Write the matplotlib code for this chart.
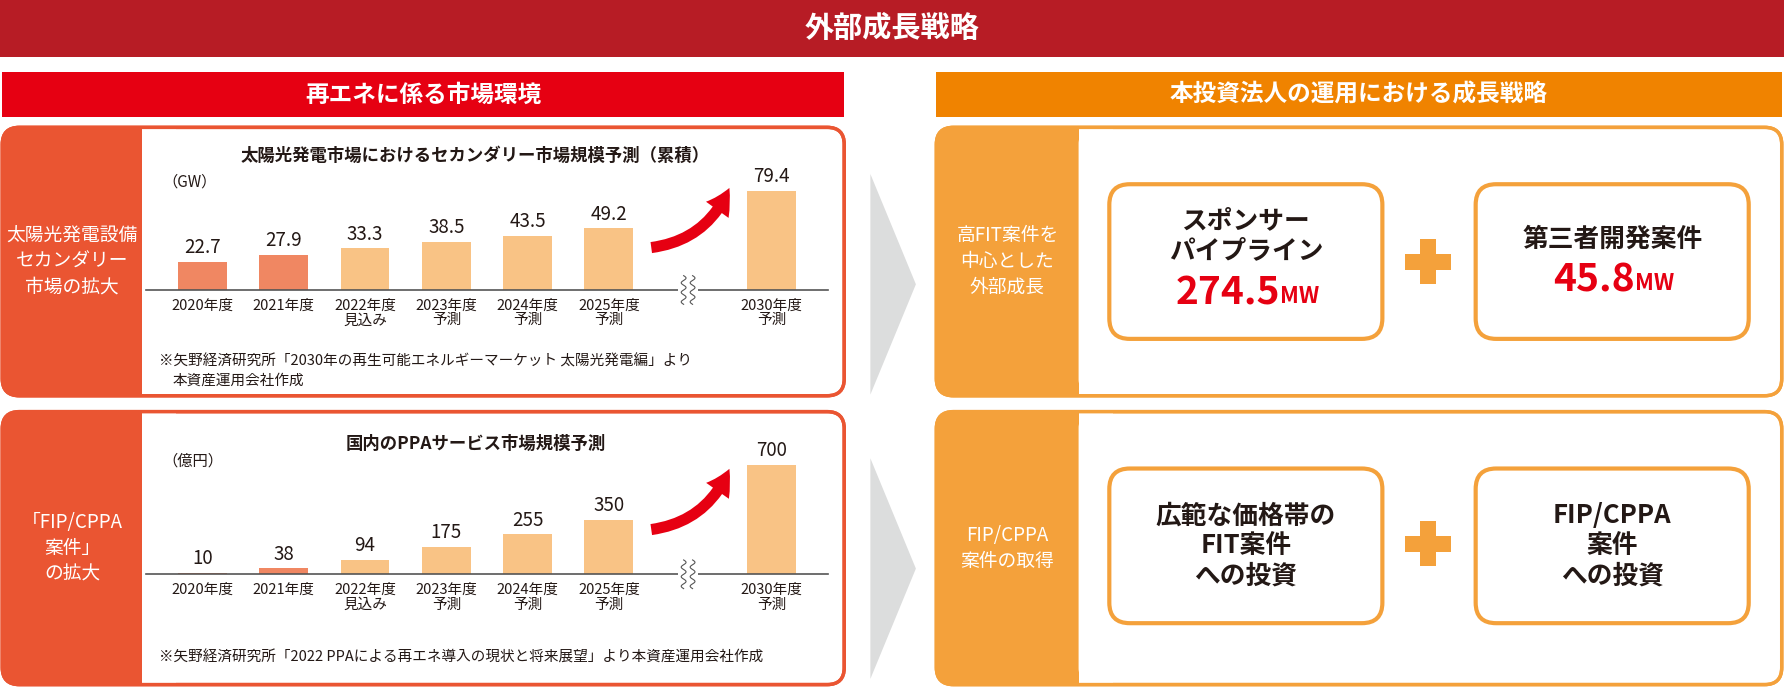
import matplotlib.pyplot as plt
import numpy as np
from matplotlib.patches import FancyBboxPatch, Rectangle, Polygon, FancyArrowPatch

plt.rcParams['font.family'] = ['Noto Sans CJK JP', 'DejaVu Sans']

# data
years = ["2020年度", "2021年度", "2022年度\n見込み", "2023年度\n予測", "2024年度\n予測",
         "2025年度\n予測", "2030年度\n予測"]
positions = [0, 1, 2, 3, 4, 5, 7]
solar_gw = [22.7, 27.9, 33.3, 38.5, 43.5, 49.2, 79.4]
ppa_oku = [10, 38, 94, 175, 255, 350, 700]
solar_labels = ["22.7", "27.9", "33.3", "38.5", "43.5", "49.2", "79.4"]
ppa_labels = ["10", "38", "94", "175", "255", "350", "700"]

W, H = 1568, 605
RED = "#e60012"
DARKRED = "#b71c25"
ORANGE = "#f08300"
LEFTC = "#ea5532"
RIGHTC = "#f4a13b"
SALMON = "#f08762"
LIGHT = "#f9c385"
INK = "#231815"

fig = plt.figure(figsize=(17.84, 6.88), dpi=100)
ax = fig.add_axes([0, 0, 1, 1])
ax.set_xlim(0, W)
ax.set_ylim(H, 0)
ax.axis("off")


def rbox(x0, y0, x1, y1, fc, ec, lw=2.5, r=15, z=1):
    p = FancyBboxPatch((x0, y0), x1 - x0, y1 - y0,
                       boxstyle=f"round,pad=0,rounding_size={r}",
                       fc=fc, ec=ec, lw=lw, zorder=z)
    ax.add_patch(p)


# banners
ax.add_patch(Rectangle((0, 0), W, 50, fc=DARKRED, ec="none"))
ax.text(W / 2, 25, "外部成長戦略", color="white", fontsize=21, fontweight="bold",
        ha="center", va="center")
ax.add_patch(Rectangle((2, 63), 740, 40, fc=RED, ec="none"))
ax.text(372, 83, "再エネに係る市場環境", color="white", fontsize=17, fontweight="bold",
        ha="center", va="center")
ax.add_patch(Rectangle((823, 63), 743, 40, fc=ORANGE, ec="none"))
ax.text(1194, 83, "本投資法人の運用における成長戦略", color="white", fontsize=17,
        fontweight="bold", ha="center", va="center")


def panel(x0, x1, y0, y1, split, color, label):
    rbox(x0, y0, x1, y1, color, color, z=1)
    rbox(split, y0 + 1.5, x1 - 1.5, y1 - 1.5, "white", "none", lw=0, r=13, z=2)
    ax.add_patch(Rectangle((split, y0 + 1.5), 30, y1 - y0 - 3, fc="white", ec="none", zorder=2))
    rbox(x0, y0, x1, y1, "none", color, z=3)
    ax.text((x0 + split) / 2, (y0 + y1) / 2, label, color="white", fontsize=13.5,
            ha="center", va="center", linespacing=1.3, zorder=4)


panel(2, 742, 112, 348, 125, LEFTC, "太陽光発電設備\nセカンダリー\n市場の拡大")
panel(2, 742, 362, 602, 125, LEFTC, "「FIP/CPPA\n案件」\nの拡大")
panel(823, 1566, 112, 348, 948, RIGHTC, "高FIT案件を\n中心とした\n外部成長")
panel(823, 1566, 362, 602, 948, RIGHTC, "FIP/CPPA\n案件の取得")

# gray arrows
for yc in (250, 500):
    ax.add_patch(Polygon([(765, yc - 97), (805, yc), (765, yc + 97)], fc="#dcdddd", ec="none"))


def inner(x0, y0, x1, y1, lines, num=None, ny=None, ty=None):
    rbox(x0, y0, x1, y1, "white", RIGHTC, lw=3, r=18, z=5)
    xc = (x0 + x1) / 2
    ax.text(xc, ty if ty else (y0 + y1) / 2, lines, fontsize=18.5, fontweight="bold",
            ha="center", va="center", linespacing=1.15, color=INK, zorder=6)
    if num:
        a = ax.text(xc - 16, ny, num, fontsize=28, fontweight="bold", ha="center",
                    va="center", color=RED, zorder=6)
        fig.canvas.draw()
        bb = a.get_window_extent().transformed(ax.transData.inverted())
        ax.text(bb.x1, ny + 3, "MW", fontsize=16, fontweight="bold", ha="left",
                va="center", color=RED, zorder=6)


inner(975, 162, 1215, 298, "スポンサー\nパイプライン", "274.5", ny=258, ty=207)
inner(1297, 162, 1537, 298, "第三者開発案件", "45.8", ny=246, ty=210)
inner(975, 412, 1215, 548, "広範な価格帯の\nFIT案件\nへの投資")
inner(1297, 412, 1537, 548, "FIP/CPPA\n案件\nへの投資")

for yc in (230, 478):
    ax.add_patch(Rectangle((1235, yc - 7), 40, 14, fc=RIGHTC, ec="none", zorder=5))
    ax.add_patch(Rectangle((1248, yc - 20), 14, 40, fc=RIGHTC, ec="none", zorder=5))


def chart(vals, labels, colors, y_top, y_base, ymax, title, unit, ty, uy):
    x0, x1 = 128, 728
    cax = fig.add_axes([x0 / W, 1 - y_base / H, (x1 - x0) / W, (y_base - y_top) / H], zorder=7)
    cax.patch.set_alpha(0)
    cax.bar(positions, vals, width=0.6, color=colors)
    for p, v, l in zip(positions, vals, labels):
        cax.text(p, v + ymax * 0.03, l, ha="center", va="bottom", fontsize=13.5, color=INK)
    cax.set_xlim(-0.7, 7.7)
    cax.set_ylim(0, ymax)
    for s in ("top", "right", "left"):
        cax.spines[s].set_visible(False)
    cax.spines["bottom"].set_color("#555555")
    cax.spines["bottom"].set_linewidth(1.2)
    cax.set_yticks([])
    cax.set_xticks(positions)
    cax.set_xticklabels(years, fontsize=10.5, linespacing=1.1, color=INK)
    cax.tick_params(axis="x", length=0, pad=6)
    # axis break
    cax.add_patch(Rectangle((5.85, -ymax * 0.05), 0.25, ymax * 0.1, fc="white", ec="none",
                            clip_on=False, zorder=5))
    t = np.linspace(-1, 1, 40)
    for dx in (5.92, 6.03):
        cax.plot(dx + 0.03 * np.sin(t * 3 * np.pi), t * ymax * 0.12, color="#555555",
                 lw=0.8, clip_on=False, zorder=6)
    ax.text(418, ty, title, fontsize=12.5, fontweight="bold", ha="center", va="center",
            color=INK)
    ax.text(143, uy, unit, fontsize=11, ha="left", va="center", color=INK)


c1 = [SALMON, SALMON, LIGHT, LIGHT, LIGHT, LIGHT, LIGHT]
chart(solar_gw, solar_labels, c1, 150, 255, 95.4,
      "太陽光発電市場におけるセカンダリー市場規模予測（累積）", "（GW）", 137, 160)
chart(ppa_oku, ppa_labels, c1, 400, 505, 765,
      "国内のPPAサービス市場規模予測", "（億円）", 390, 405)

for ys, ye in ((218, 163), (466, 410)):
    ax.add_patch(FancyArrowPatch((570, ys), (642, ye), connectionstyle="arc3,rad=0.3",
                                 arrowstyle="simple,head_width=20,head_length=18,tail_width=8",
                                 fc=RED, ec="none", zorder=8))

ax.text(140, 318, "※矢野経済研究所「2030年の再生可能エネルギーマーケット 太陽光発電編」より",
        fontsize=10.5, ha="left", va="center", color=INK)
ax.text(152, 335, "本資産運用会社作成", fontsize=10.5, ha="left", va="center", color=INK)
ax.text(140, 578, "※矢野経済研究所「2022 PPAによる再エネ導入の現状と将来展望」より本資産運用会社作成",
        fontsize=10.5, ha="left", va="center", color=INK)

fig.savefig("out.png", dpi=100)
